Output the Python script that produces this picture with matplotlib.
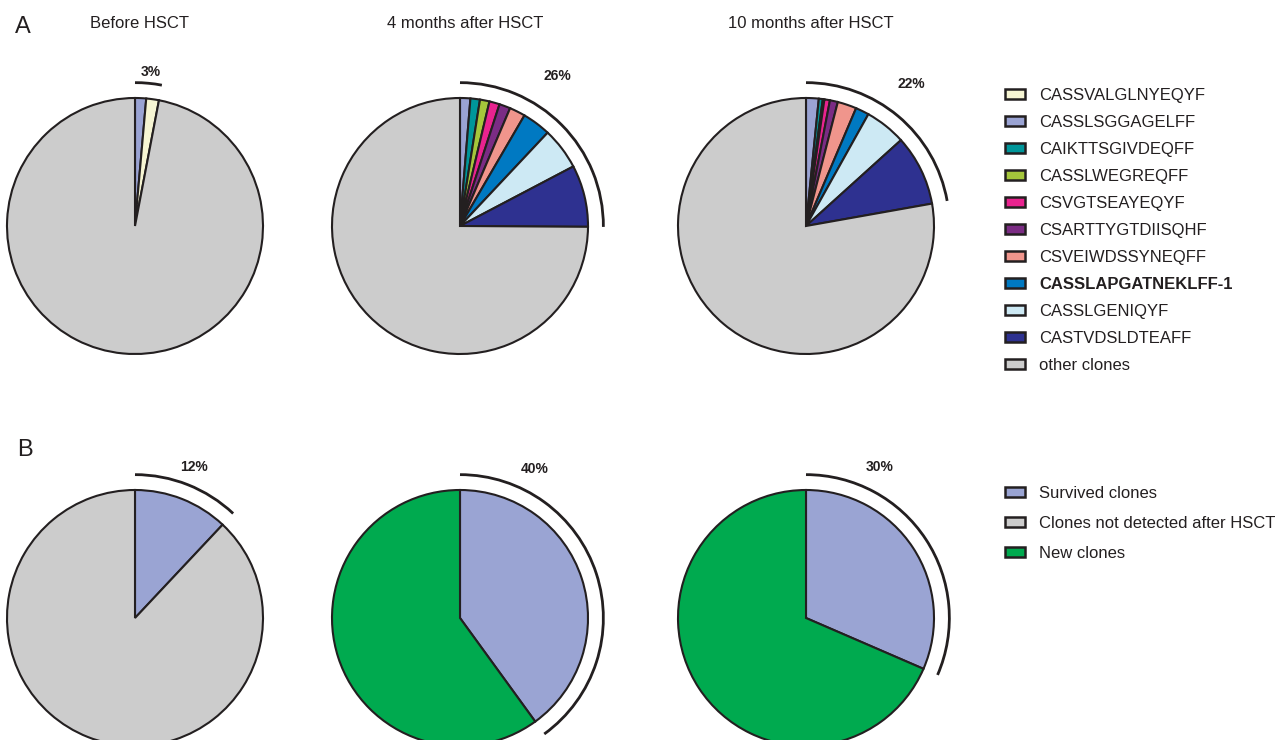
import matplotlib
matplotlib.use('Agg')
import matplotlib.pyplot as plt
from matplotlib.patches import Arc, Patch

plt.rcParams['font.family'] = ['Liberation Sans', 'DejaVu Sans']

# ---- data -------------------------------------------------------------
timepoints = ['Before HSCT', '4 months after HSCT', '10 months after HSCT']

# legend order (A)
clone_names = ['CASSVALGLNYEQYF', 'CASSLSGGAGELFF', 'CAIKTTSGIVDEQFF', 'CASSLWEGREQFF',
               'CSVGTSEAYEQYF', 'CSARTTYGTDIISQHF', 'CSVEIWDSSYNEQFF',
               'CASSLAPGATNEKLFF-1', 'CASSLGENIQYF', 'CASTVDSLDTEAFF', 'other clones']
clone_colors = ['#f6f5d3', '#9aa3d3', '#00969a', '#a5c63b', '#e9238f', '#7b2c84',
                '#f0958c', '#0079c2', '#cde9f4', '#2e3190', '#cccccc']

# order in which the slices run clockwise from 12 o'clock
pie_order = ['CASSLSGGAGELFF', 'CASSVALGLNYEQYF', 'CAIKTTSGIVDEQFF', 'CASSLWEGREQFF',
             'CSVGTSEAYEQYF', 'CSARTTYGTDIISQHF', 'CSVEIWDSSYNEQFF',
             'CASSLAPGATNEKLFF-1', 'CASSLGENIQYF', 'CASTVDSLDTEAFF']

# clone frequencies (%) in pie_order
freq_before = [1.4, 1.6, 0, 0, 0, 0, 0, 0, 0, 0]
freq_4m = [1.3, 0, 1.2, 1.2, 1.3, 1.4, 2.0, 3.6, 5.3, 7.8]
freq_10m = [1.6, 0, 0.5, 0.2, 0.7, 1.0, 2.4, 1.7, 5.2, 8.9]
clone_pct_labels = ['3%', '26%', '22%']

# B: survived clones (%) ; second slice = not detected (before) / new clones (after)
survived_names = ['Survived clones', 'Clones not detected after HSCT', 'New clones']
survived_colors = ['#9aa4d3', '#cccccc', '#00aa4f']
survived_pct = [12, 40, 31.5]
survived_pct_labels = ['12%', '40%', '30%']

# ---- layout (pixels, origin top-left) ---------------------------------
W, H = 1283, 740
centers_x = [135, 460, 806]
row_y = [226, 618]
R = 128
arc_r = 1.12
# offsets of the percent labels from the pie centre
lab_off_A = [(16, 154), (97, 150), (105, 142)]
lab_off_B = [(59, 151), (75, 149), (74, 151)]
ink = '#231f20'

fig = plt.figure(figsize=(W / 100, H / 100), dpi=100)
ax = fig.add_axes([0, 0, 1, 1])


def draw_pie(vals, cols, cx, cy_pix, pct, lab, off):
    cy = H - cy_pix
    v = [x for x in vals if x > 0]
    c = [cc for x, cc in zip(vals, cols) if x > 0]
    ax.pie(v, colors=c, startangle=90, counterclock=False, center=(cx, cy), radius=R,
           normalize=True, wedgeprops=dict(edgecolor=ink, linewidth=1.5))
    ax.add_patch(Arc((cx, cy), 2 * R * arc_r, 2 * R * arc_r, theta1=90 - pct * 3.6, theta2=90,
                     color=ink, lw=2))
    ax.text(cx + off[0], cy + off[1], lab, ha='center', va='center', fontsize=10,
            fontweight='bold', color=ink)


# row A
color_of = dict(zip(clone_names, clone_colors))
for i, freqs in enumerate([freq_before, freq_4m, freq_10m]):
    vals = list(freqs) + [100 - sum(freqs)]
    cols = [color_of[n] for n in pie_order] + [color_of['other clones']]
    draw_pie(vals, cols, centers_x[i], row_y[0], sum(freqs), clone_pct_labels[i], lab_off_A[i])
    ax.text(centers_x[i] + 5, H - 23, timepoints[i], ha='center', va='center', fontsize=12,
            color=ink)

# row B
for i, s in enumerate(survived_pct):
    rest_col = survived_colors[1] if i == 0 else survived_colors[2]
    draw_pie([s, 100 - s], [survived_colors[0], rest_col], centers_x[i], row_y[1], s,
             survived_pct_labels[i], lab_off_B[i])

ax.text(23, H - 27, 'A', ha='center', va='center', fontsize=17, color=ink)
ax.text(25, H - 450, 'B', ha='center', va='center', fontsize=17, color=ink)

ax.set_xlim(0, W)
ax.set_ylim(0, H)
ax.set_aspect('auto')
ax.axis('off')

hA = [Patch(facecolor=c, edgecolor=ink, linewidth=1.8) for c in clone_colors]
legA = ax.legend(hA, clone_names, loc='upper left', bbox_to_anchor=(1005 / W, 1 - 88 / H),
                 frameon=False, fontsize=12, handlelength=1.2, handleheight=0.6,
                 handletextpad=0.85, labelspacing=0.72, borderpad=0, borderaxespad=0)
for t in legA.get_texts():
    t.set_color(ink)
legA.get_texts()[7].set_fontweight('bold')
ax.add_artist(legA)

hB = [Patch(facecolor=c, edgecolor=ink, linewidth=1.8) for c in survived_colors]
legB = ax.legend(hB, survived_names, loc='upper left', bbox_to_anchor=(1005 / W, 1 - 486 / H),
                 frameon=False, fontsize=12, handlelength=1.2, handleheight=0.6,
                 handletextpad=0.85, labelspacing=0.9, borderpad=0, borderaxespad=0)
for t in legB.get_texts():
    t.set_color(ink)

fig.savefig('out.png', dpi=100)
